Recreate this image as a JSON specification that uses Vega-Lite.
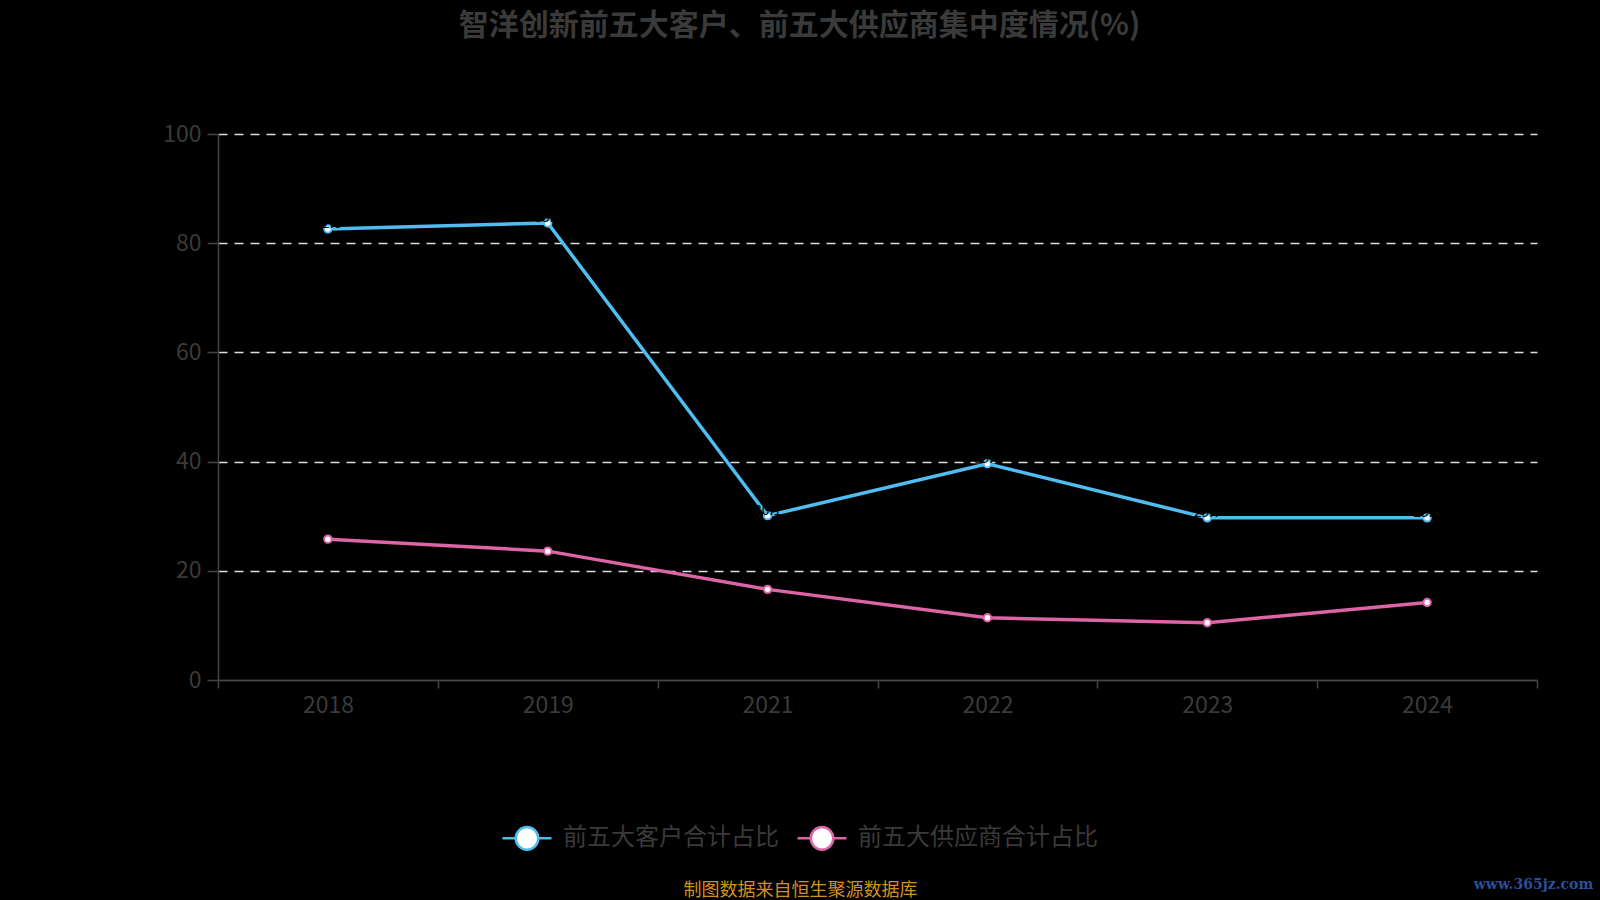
{
  "$schema": "https://vega.github.io/schema/vega-lite/v6.json",
  "width": 1319,
  "height": 546,
  "autosize": "none",
  "padding": {"left": 218, "top": 134, "right": 63, "bottom": 220},
  "background": "#000000",
  "title": {
    "text": "智洋创新前五大客户、前五大供应商集中度情况(%)",
    "font": "Noto Sans CJK SC",
    "fontSize": 30,
    "fontWeight": "bold",
    "color": "#3a3a3a",
    "anchor": "middle",
    "baseline": "alphabetic",
    "offset": 58,
    "dx": -78
  },
  "data": {
    "values": [
      {"year": "2018", "series": "前五大客户合计占比", "value": 82.6},
      {"year": "2019", "series": "前五大客户合计占比", "value": 83.7},
      {"year": "2021", "series": "前五大客户合计占比", "value": 30.1},
      {"year": "2022", "series": "前五大客户合计占比", "value": 39.6},
      {"year": "2023", "series": "前五大客户合计占比", "value": 29.7},
      {"year": "2024", "series": "前五大客户合计占比", "value": 29.7},
      {"year": "2018", "series": "前五大供应商合计占比", "value": 25.8},
      {"year": "2019", "series": "前五大供应商合计占比", "value": 23.6},
      {"year": "2021", "series": "前五大供应商合计占比", "value": 16.6},
      {"year": "2022", "series": "前五大供应商合计占比", "value": 11.4},
      {"year": "2023", "series": "前五大供应商合计占比", "value": 10.5},
      {"year": "2024", "series": "前五大供应商合计占比", "value": 14.2}
    ]
  },
  "layer": [
    {
      "mark": {
        "type": "line",
        "strokeWidth": 3.5,
        "point": {"filled": false, "fill": "#ffffff", "size": 55, "strokeWidth": 2}
      },
      "encoding": {
        "x": {
          "field": "year",
          "type": "ordinal",
          "scale": {"paddingInner": 0, "paddingOuter": 0},
          "axis": {
            "zindex": 1,
            "title": "制图数据来自恒生聚源数据库",
            "titleFont": "Noto Sans CJK SC",
            "titleFontSize": 18,
            "titleFontWeight": "normal",
            "titleColor": "#d4901f",
            "titleX": 582,
            "titleY": 210,
            "titleAlign": "center",
            "titleBaseline": "middle",
            "labelAngle": 0,
            "labelFont": "Noto Sans CJK SC",
            "labelFontSize": 23,
            "labelColor": "#3a3a3a",
            "labelPadding": 6,
            "tickBand": "extent",
            "tickSize": 8,
            "tickColor": "#444444",
            "tickWidth": 1.5,
            "domainColor": "#444444",
            "domainWidth": 1.5,
            "grid": false
          }
        },
        "y": {
          "field": "value",
          "type": "quantitative",
          "scale": {"domain": [0, 100]},
          "axis": {
            "orient": "left",
            "title": null,
            "values": [0, 20, 40, 60, 80, 100],
            "labelFont": "Noto Sans CJK SC",
            "labelFontSize": 23,
            "labelColor": "#3a3a3a",
            "labelPadding": 6,
            "tickSize": 11,
            "tickColor": "#444444",
            "tickWidth": 1.5,
            "domainColor": "#444444",
            "domainWidth": 1.5,
            "grid": true,
            "gridColor": {"condition": {"test": "datum.value === 0", "value": "#444444"}, "value": "#dddddd"},
            "gridWidth": 1.5,
            "gridDash": {"condition": {"test": "datum.value === 0", "value": []}, "value": [9, 7]}
          }
        },
        "color": {
          "field": "series",
          "type": "nominal",
          "scale": {
            "domain": ["前五大客户合计占比", "前五大供应商合计占比"],
            "range": ["#4fbdf0", "#dd64a6"]
          },
          "legend": {
            "title": null,
            "orient": "none",
            "direction": "horizontal",
            "legendX": 283,
            "legendY": 678,
            "padding": 0,
            "symbolType": "M-1,0L-0.46,0M0.46,0L1,0M-0.46,0A0.46,0.46 0 1,1 0.46,0A0.46,0.46 0 1,1 -0.46,0Z",
            "symbolSize": 2400,
            "symbolStrokeWidth": 2.5,
            "labelFont": "Noto Sans CJK SC",
            "labelFontSize": 24,
            "labelColor": "#3a3a3a",
            "labelOffset": 10,
            "labelLimit": 400,
            "columnPadding": 13,
            "encode": {
              "symbols": {"update": {"fill": {"value": "#ffffff"}, "fillOpacity": {"value": 1}}}
            }
          }
        }
      }
    },
    {
      "transform": [{"filter": "datum.series === '前五大客户合计占比'"}],
      "mark": {
        "type": "text",
        "fill": "#000000",
        "font": "Noto Sans CJK SC",
        "fontSize": 14,
        "dy": -5,
        "baseline": "middle"
      },
      "encoding": {
        "x": {"field": "year", "type": "ordinal"},
        "y": {
          "field": "value",
          "type": "quantitative",
          "axis": {
            "orient": "right",
            "title": "www.365jz.com",
            "titleFont": "DejaVu Serif",
            "titleFontSize": 14,
            "titleFontWeight": "bold",
            "titleColor": "#2b4f99",
            "titleAngle": 0,
            "titleX": -4,
            "titleY": 750,
            "titleAlign": "center",
            "titleBaseline": "middle",
            "labels": false,
            "ticks": false,
            "domain": false,
            "grid": false
          }
        },
        "text": {"field": "value", "type": "quantitative"}
      }
    }
  ],
  "resolve": {"axis": {"y": "independent"}},
  "config": {
    "view": {"stroke": null}
  }
}
